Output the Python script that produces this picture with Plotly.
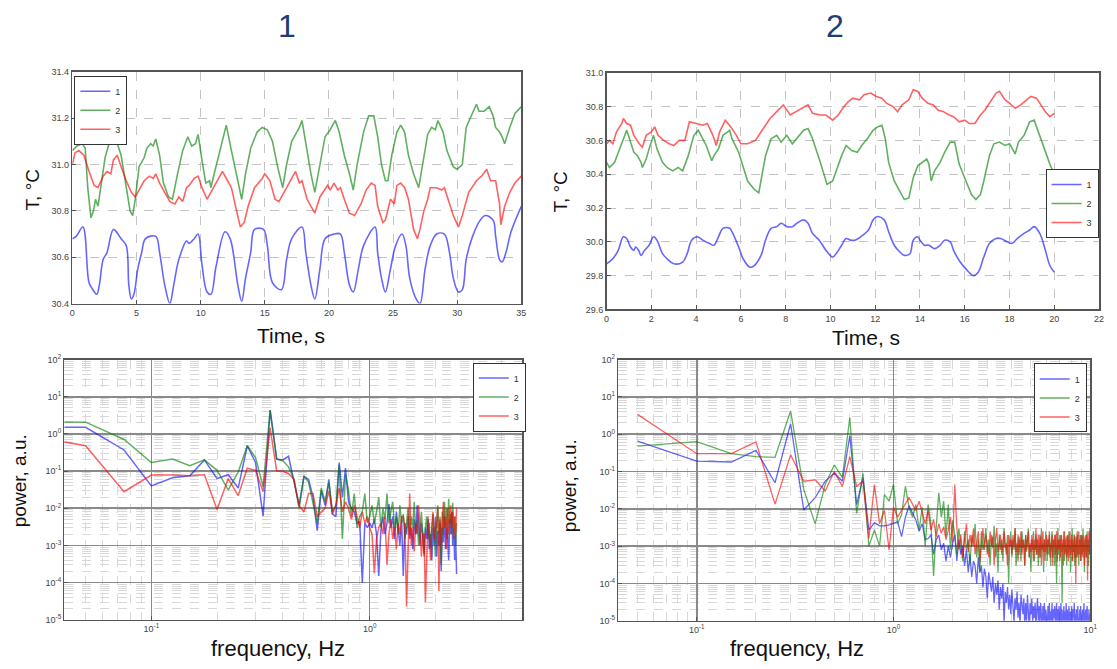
import math
import plotly.graph_objects as go

W, H = 1117, 669

# ---------------- Top-left: temperature, experiment 1 ----------------
tl_t1 = [0, 0.3, 0.82, 1.3, 1.6, 1.9, 2.1, 2.4, 2.7, 3.2,
         3.8, 4.2, 4.4, 4.6, 4.8, 5.1, 5.4, 5.7, 6.5, 6.8,
         7.2, 7.6, 7.9, 8.3, 8.9, 9.1, 9.5, 9.8, 10.1, 10.5,
         10.8, 11.2, 11.9, 12.3, 12.9, 13.2, 13.5, 13.9, 14.2, 14.9,
         15.2, 15.6, 16.3, 16.7, 17.1, 17.9, 18.2, 18.6, 18.9, 19.3,
         19.7, 20.4, 20.9, 21.2, 21.6, 21.9, 22.3, 22.7, 23.6, 23.8,
         24.1, 24.4, 24.8, 25.2, 25.7, 26.0, 26.3, 26.8, 27.1, 27.5,
         27.9, 28.4, 29.0, 29.4, 29.7, 30.1, 30.4, 30.7, 31.2, 31.8,
         32.2, 32.8, 33.0, 33.3, 33.5, 33.8, 34.2, 35]
tl_T1 = [30.68, 30.69, 30.73, 30.49, 30.46, 30.44, 30.48, 30.59, 30.62, 30.72,
         30.68, 30.65, 30.48, 30.42, 30.44, 30.55, 30.62, 30.68, 30.69, 30.62,
         30.48, 30.40, 30.48, 30.59, 30.67, 30.66, 30.68, 30.70, 30.57, 30.45,
         30.44, 30.56, 30.71, 30.68, 30.48, 30.41, 30.51, 30.62, 30.72, 30.72,
         30.65, 30.49, 30.46, 30.59, 30.68, 30.73, 30.62, 30.48, 30.42, 30.55,
         30.68, 30.70, 30.70, 30.62, 30.48, 30.45, 30.55, 30.65, 30.73, 30.62,
         30.51, 30.45, 30.55, 30.65, 30.70, 30.65, 30.51, 30.42, 30.40, 30.55,
         30.65, 30.70, 30.70, 30.62, 30.51, 30.45, 30.46, 30.59, 30.69, 30.76,
         30.78, 30.76, 30.69, 30.59, 30.58, 30.62, 30.71, 30.82]

tl_t2 = [0, 0.36, 0.77, 1.0, 1.2, 1.45, 1.65, 1.8, 2.0, 2.3,
         2.55, 2.8, 3.1, 3.3, 3.5, 3.8, 4.1, 4.5, 4.7, 4.9,
         5.2, 5.6, 5.8, 6.1, 6.3, 6.5, 6.8, 7.1, 7.5, 7.8,
         8.2, 8.6, 9.0, 9.3, 9.6, 9.8, 10.1, 10.4, 10.7, 10.8,
         11.1, 11.5, 12.0, 12.4, 13.0, 13.2, 13.5, 13.9, 14.4, 14.8,
         15.2, 15.6, 16.0, 16.4, 16.7, 17.1, 17.4, 17.7, 17.9, 18.2,
         18.6, 18.9, 19.3, 19.7, 20.1, 20.5, 20.8, 21.2, 21.6, 21.9,
         22.2, 22.7, 23.1, 23.5, 23.8, 24.1, 24.4, 24.6, 24.9, 25.3,
         25.6, 25.9, 26.2, 26.6, 27.0, 27.3, 27.7, 28.0, 28.3, 28.5,
         28.9, 29.2, 29.4, 29.7, 30.0, 30.4, 30.7, 31.1, 31.5, 31.7,
         32.1, 32.5, 32.8, 33.0, 33.3, 33.5, 33.7, 34.1, 34.5, 35]
tl_T2 = [31.06, 31.08, 31.09, 31.07, 30.90, 30.77, 30.80, 30.85, 30.82, 30.93,
         31.03, 31.08, 31.11, 31.09, 31.09, 31.04, 30.93, 30.80, 30.78, 30.85,
         30.99, 31.03, 31.07, 31.09, 31.08, 31.11, 31.04, 30.92, 30.86, 30.85,
         30.96, 31.06, 31.12, 31.08, 31.09, 31.13, 31.02, 30.92, 30.93, 30.90,
         30.97, 31.06, 31.17, 31.06, 30.90, 30.85, 30.96, 31.07, 31.14, 31.16,
         31.15, 31.10, 30.99, 30.90, 31.00, 31.10, 31.13, 31.16, 31.19, 31.09,
         30.96, 30.88, 31.00, 31.12, 31.15, 31.19, 31.14, 31.04, 30.96, 30.89,
         31.00, 31.14, 31.21, 31.21, 31.12, 31.00, 30.93, 30.93, 31.04, 31.14,
         31.17, 31.14, 31.04, 30.96, 30.90, 31.00, 31.13, 31.16, 31.15, 31.19,
         31.14, 31.06, 31.03, 30.99, 30.98, 31.00, 31.16, 31.21, 31.26, 31.23,
         31.23, 31.25, 31.21, 31.16, 31.14, 31.12, 31.09, 31.16, 31.22, 31.25]

tl_t3 = [0, 0.2, 0.5, 0.9, 1.3, 1.7, 2.0, 2.4, 2.7, 3.0,
         3.2, 3.5, 3.8, 4.2, 4.6, 4.9, 5.3, 5.6, 6.0, 6.3,
         6.5, 6.8, 7.2, 7.6, 8.0, 8.3, 8.6, 8.9, 9.1, 9.5,
         9.8, 10.1, 10.5, 10.9, 11.3, 11.7, 12.1, 12.4, 12.8, 13.1,
         13.4, 13.7, 14.2, 14.8, 15.0, 15.4, 15.8, 16.1, 16.5, 16.9,
         17.4, 17.7, 17.9, 18.3, 18.7, 18.9, 19.3, 19.9, 20.1, 20.4,
         20.7, 20.9, 21.2, 21.6, 22.0, 22.5, 22.9, 23.3, 23.6, 23.8,
         24.2, 24.4, 24.8, 25.1, 25.3, 25.6, 25.9, 26.2, 26.6, 26.9,
         27.1, 27.4, 27.7, 27.9, 28.4, 28.8, 29.0, 29.4, 29.7, 30.1,
         30.4, 30.9, 31.5, 31.9, 32.3, 32.6, 33.0, 33.3, 33.4, 33.7,
         34.1, 34.5, 35]
tl_T3 = [31.00, 31.05, 31.06, 31.04, 30.97, 30.91, 30.90, 30.95, 30.97, 30.96,
         31.02, 31.04, 30.99, 30.93, 30.88, 30.86, 30.90, 30.93, 30.95, 30.94,
         30.96, 30.92, 30.88, 30.84, 30.83, 30.86, 30.84, 30.90, 30.91, 30.94,
         30.95, 30.90, 30.85, 30.89, 30.93, 30.97, 30.93, 30.90, 30.80, 30.73,
         30.75, 30.82, 30.90, 30.94, 30.96, 30.93, 30.85, 30.84, 30.88, 30.92,
         30.97, 30.92, 30.93, 30.85, 30.81, 30.79, 30.86, 30.91, 30.89, 30.92,
         30.89, 30.90, 30.85, 30.79, 30.78, 30.83, 30.89, 30.92, 30.91, 30.82,
         30.75, 30.76, 30.85, 30.83, 30.91, 30.92, 30.90, 30.85, 30.72, 30.68,
         30.72, 30.80, 30.85, 30.90, 30.90, 30.89, 30.90, 30.83, 30.78, 30.73,
         30.78, 30.88, 30.93, 30.95, 30.98, 30.93, 30.93, 30.83, 30.74, 30.82,
         30.88, 30.92, 30.95]

# ---------------- Top-right: temperature, experiment 2 ----------------
tr_t1 = [0, 0.28, 0.52, 0.75, 0.9, 1.07, 1.22, 1.3, 1.43, 1.54,
         1.7, 1.9, 2.1, 2.25, 2.5, 2.7, 3.0, 3.4, 3.6, 3.8,
         4.05, 4.3, 4.6, 4.8, 5.0, 5.2, 5.5, 5.6, 5.9, 6.1,
         6.4, 6.6, 6.9, 7.1, 7.35, 7.6, 7.8, 8.05, 8.3, 8.5,
         8.8, 9.0, 9.2, 9.5, 9.8, 10.1, 10.25, 10.5, 10.7, 10.9,
         11.1, 11.35, 11.7, 11.9, 12.1, 12.4, 12.6, 12.85, 13.1, 13.3,
         13.55, 13.7, 13.9, 14.0, 14.2, 14.4, 14.65, 14.9, 15.1, 15.35,
         15.5, 15.75, 16.05, 16.4, 16.6, 16.85, 17.1, 17.4, 17.6, 17.9,
         18.1, 18.35, 18.65, 18.9, 19.1, 19.35, 19.6, 19.8, 20.0]
tr_T1 = [29.87, 29.90, 29.95, 30.03, 30.02, 29.97, 29.95, 29.97, 29.95, 29.92,
         29.95, 29.98, 30.03, 30.01, 29.93, 29.90, 29.87, 29.88, 29.93, 30.01,
         30.03, 30.01, 29.99, 29.98, 30.03, 30.08, 30.08, 30.06, 29.97, 29.90,
         29.85, 29.86, 29.92, 30.01, 30.08, 30.09, 30.11, 30.09, 30.09, 30.11,
         30.13, 30.11, 30.05, 30.01, 29.95, 29.91, 29.93, 29.98, 30.02, 30.01,
         30.01, 30.03, 30.07, 30.13, 30.15, 30.13, 30.06, 29.98, 29.94, 29.92,
         29.93, 30.01, 30.03, 30.01, 29.98, 29.98, 29.96, 29.98, 30.01, 30.00,
         29.95, 29.89, 29.84, 29.80, 29.82, 29.91, 29.99, 30.02, 30.02, 30.00,
         29.99, 30.02, 30.05, 30.07, 30.09, 30.05, 29.95, 29.86, 29.82]

tr_t2 = [0, 0.13, 0.36, 0.6, 0.75, 0.9, 1.07, 1.22, 1.38, 1.54,
         1.6, 1.77, 1.9, 2.1, 2.25, 2.5, 2.7, 2.95, 3.2, 3.4,
         3.65, 3.9, 4.1, 4.3, 4.45, 4.7, 4.8, 5.0, 5.2, 5.5,
         5.6, 5.9, 6.1, 6.3, 6.6, 6.8, 6.95, 7.1, 7.35, 7.6,
         7.8, 8.05, 8.3, 8.5, 8.8, 9.0, 9.2, 9.5, 9.7, 9.85,
         10.1, 10.3, 10.5, 10.7, 10.95, 11.2, 11.4, 11.7, 11.9, 12.1,
         12.3, 12.45, 12.6, 12.85, 13.1, 13.3, 13.5, 13.7, 13.9, 14.1,
         14.3, 14.4, 14.5, 14.65, 14.9, 15.1, 15.35, 15.55, 15.75, 16.05,
         16.3, 16.5, 16.7, 16.85, 17.1, 17.3, 17.55, 17.8, 18.0, 18.25,
         18.4, 18.65, 18.9, 19.1, 19.35, 19.6, 19.8, 20.0]
tr_T2 = [30.47, 30.44, 30.47, 30.55, 30.61, 30.66, 30.59, 30.53, 30.51, 30.47,
         30.44, 30.49, 30.55, 30.63, 30.55, 30.47, 30.44, 30.42, 30.44, 30.42,
         30.51, 30.63, 30.66, 30.61, 30.57, 30.48, 30.51, 30.55, 30.63, 30.66,
         30.61, 30.53, 30.44, 30.36, 30.31, 30.29, 30.40, 30.51, 30.61, 30.63,
         30.59, 30.63, 30.58, 30.61, 30.66, 30.67, 30.61, 30.49, 30.40, 30.34,
         30.36, 30.44, 30.51, 30.57, 30.54, 30.53, 30.57, 30.62, 30.66, 30.68,
         30.69, 30.61, 30.47, 30.36, 30.30, 30.25, 30.26, 30.38, 30.45, 30.47,
         30.49, 30.46, 30.36, 30.42, 30.47, 30.53, 30.59, 30.59, 30.46, 30.36,
         30.28, 30.25, 30.28, 30.36, 30.51, 30.58, 30.59, 30.57, 30.58, 30.52,
         30.59, 30.63, 30.71, 30.72, 30.63, 30.53, 30.46, 30.40]

tr_t3 = [0, 0.13, 0.28, 0.44, 0.68, 0.75, 0.9, 1.07, 1.22, 1.46,
         1.6, 1.77, 2.0, 2.15, 2.3, 2.55, 2.8, 3.0, 3.25, 3.5,
         3.7, 4.05, 4.3, 4.5, 4.75, 4.9, 5.05, 5.3, 5.55, 5.8,
         6.0, 6.3, 6.65, 6.95, 7.3, 7.6, 7.9, 8.2, 8.45, 8.7,
         9.0, 9.2, 9.55, 9.8, 10.1, 10.35, 10.55, 10.8, 11.0, 11.3,
         11.5, 11.8, 12.05, 12.3, 12.5, 12.8, 13.0, 13.2, 13.5, 13.7,
         13.9, 14.1, 14.35, 14.6, 14.8, 15.05, 15.3, 15.5, 15.75, 16.0,
         16.2, 16.45, 16.7, 16.9, 17.2, 17.4, 17.55, 17.8, 18.0, 18.25,
         18.5, 18.7, 18.95, 19.2, 19.35, 19.6, 19.8, 20.0]
tr_T3 = [30.58, 30.60, 30.58, 30.65, 30.70, 30.73, 30.70, 30.69, 30.63, 30.58,
         30.56, 30.63, 30.65, 30.68, 30.63, 30.60, 30.58, 30.57, 30.60, 30.60,
         30.71, 30.70, 30.69, 30.70, 30.63, 30.57, 30.65, 30.72, 30.68, 30.63,
         30.58, 30.58, 30.60, 30.66, 30.73, 30.77, 30.81, 30.75, 30.77, 30.79,
         30.81, 30.76, 30.75, 30.75, 30.72, 30.75, 30.79, 30.83, 30.85, 30.84,
         30.87, 30.88, 30.86, 30.85, 30.82, 30.80, 30.77, 30.81, 30.84, 30.90,
         30.89, 30.85, 30.82, 30.81, 30.78, 30.77, 30.75, 30.74, 30.71, 30.72,
         30.70, 30.70, 30.75, 30.78, 30.84, 30.88, 30.89, 30.84, 30.82, 30.79,
         30.81, 30.83, 30.86, 30.85, 30.82, 30.77, 30.74, 30.76]

# ---------------- Bottom-left: spectra, experiment 1 (df = 0.025 Hz) ----------------
BL_DF, BL_N = 0.025, 100
bl_freq = [BL_DF * k for k in range(1, BL_N + 1)]
bl_P1 = [1.5, 1.5, 0.37, 0.04, 0.066, 0.075, 0.2, 0.063, 0.08, 0.035,
         0.48, 0.17, 0.0062, 4.4, 0.21, 0.2, 0.25, 0.05, 0.012, 0.07,
         0.06, 0.02, 0.0025, 0.03, 0.012, 0.06, 0.007, 0.006, 0.17, 0.02,
         0.12, 0.015, 0.01, 0.008, 0.004, 0.0045, 1e-4, 0.004, 0.003, 0.004,
         3e-3, 5e-3, 2e-3, 1.5e-4, 2.5e-3, 6e-3, 2e-3, 4e-3, 1.3e-2, 3e-3,
         6e-3, 1.5e-3, 8e-3, 3e-3, 1e-3, 5e-3, 1.5e-4, 4e-3, 2e-3, 6e-3,
         1.5e-3, 3e-3, 8e-4, 5e-3, 2e-3, 1.2e-2, 3e-3, 1e-3, 4e-3, 2e-3,
         6e-4, 3e-3, 1.5e-3, 5e-3, 8e-4, 2e-3, 4e-4, 3e-3, 1e-3, 6e-3,
         5e-4, 2.5e-3, 1e-3, 4e-3, 2e-4, 3e-3, 1.2e-3, 6e-3, 8e-4, 3e-3,
         1.5e-3, 4e-4, 5e-3, 2e-3, 8e-3, 1e-3, 3e-3, 4e-4, 2e-3, 1.7e-4]
bl_P2 = [2.1, 2.07, 0.71, 0.17, 0.21, 0.14, 0.2, 0.105, 0.031, 0.095,
         0.48, 0.23, 0.038, 4.4, 0.21, 0.19, 0.13, 0.06, 0.01, 0.075,
         0.05, 0.015, 0.004, 0.035, 0.015, 0.05, 0.008, 0.012, 0.15, 0.0015,
         0.08, 0.03, 0.006, 0.025, 0.003, 0.006, 0.008, 0.025, 0.004, 0.006,
         0.012, 0.004, 0.008, 0.02, 3e-3, 1e-2, 5e-3, 2.5e-2, 4e-3, 8e-3,
         1.5e-2, 3e-3, 6e-3, 2e-3, 1.2e-2, 4e-3, 7e-3, 1.5e-3, 5e-3, 1e-2,
         2e-3, 6e-3, 3e-3, 1.5e-2, 2e-3, 5e-3, 1e-3, 4e-3, 8e-3, 2e-3,
         5e-4, 3e-3, 6e-3, 1.5e-3, 4e-3, 9e-4, 3e-3, 7e-3, 2e-3, 5e-4,
         4e-3, 1.2e-2, 2e-3, 6e-3, 3e-4, 8e-3, 2e-3, 1.5e-2, 3e-3, 1e-2,
         1.5e-3, 1.8e-2, 4e-3, 7e-3, 2e-3, 1.4e-2, 3e-3, 6e-3, 1e-3, 4e-3]
bl_P3 = [1.0, 0.48, 0.028, 0.078, 0.078, 0.075, 0.08, 0.0093, 0.063, 0.022,
         0.12, 0.105, 0.028, 1.45, 0.1, 0.1, 0.085, 0.06, 0.012, 0.008,
         0.025, 0.025, 0.006, 0.008, 0.01, 0.03, 0.007, 0.012, 0.035, 0.008,
         0.015, 0.01, 0.005, 0.012, 0.006, 0.003, 0.008, 0.004, 0.006, 0.003,
         2e-3, 1.8e-4, 1.5e-3, 3e-3, 4e-3, 2e-3, 6e-3, 3e-4, 2e-3, 5e-3,
         1.5e-3, 3e-3, 8e-4, 4e-3, 2e-3, 6e-3, 6e-3, 3e-3, 2.3e-5, 2e-3,
         2.5e-2, 1e-3, 3e-3, 7e-4, 4e-3, 2e-3, 1.2e-2, 3e-3, 5e-4, 2e-3,
         2e-3, 3e-5, 1e-3, 6e-3, 2e-3, 4e-4, 3e-3, 8e-3, 1.5e-3, 3e-3,
         3e-3, 1e-2, 6e-5, 5e-3, 1e-3, 4e-3, 1.5e-2, 3e-3, 6e-3, 8e-4,
         1e-2, 2e-3, 5e-3, 1.2e-2, 3e-3, 8e-3, 1.5e-3, 6e-3, 2e-3, 1e-2]

# ---------------- Bottom-right: spectra, experiment 2 (df = 0.05 Hz) ----------------
BR_DF, BR_N = 0.05, 200
br_freq = [BR_DF * k for k in range(1, BR_N + 1)]
br_P1 = [0.65, 0.19, 0.18, 0.37, 0.05, 1.9, 0.0093, 0.02, 0.055, 0.09,
         0.055, 0.9, 0.013, 0.068, 0.0027, 0.0042, 0.0035, 0.0035, 0.0037, 0.004,
         0.0045, 0.0018, 0.006, 0.012, 0.008, 0.005, 0.0025, 0.004, 0.0015, 0.0016,
         0.002, 0.0006, 0.0015, 0.002, 0.0008, 0.0012, 4e-4, 1e-3, 5e-4, 1.2e-3,
         2e-3, 4e-4, 1.5e-3, 6e-4, 1e-3, 3e-4, 8e-4, 2e-4, 6e-4, 1.5e-4,
         4e-4, 3e-4, 1e-4, 5e-4, 2e-4, 3e-4, 8e-5, 2.5e-4, 1.5e-4, 4e-5,
         2e-4, 1e-4, 6e-5, 1.5e-4, 3e-5, 1e-4, 5e-5, 1.2e-4, 2e-5, 8e-5,
         4e-5, 1e-4, 9e-6, 6e-5, 3e-5, 8e-5, 2e-5, 5e-5, 1.5e-5, 7e-5,
         3e-5, 9e-6, 4e-5, 2e-5, 6e-5, 1.2e-5, 3e-5, 8e-6, 5e-5, 2e-5,
         1.5e-5, 4e-5, 7e-6, 3e-5, 1e-5, 5e-5, 2e-5, 6e-6, 3e-5, 1.5e-5,
         4e-5, 8e-6, 2.5e-5, 1.2e-5, 3e-5, 6e-6, 2e-5, 4e-5, 1e-5, 2.5e-5,
         7e-6, 3e-5, 1.5e-5, 5e-6, 2.5e-5, 1e-5, 3e-5, 8e-6, 2e-5, 1.2e-5,
         4e-6, 2.5e-5, 1e-5, 3e-5, 6e-6, 1.8e-5, 1e-5, 3e-5, 5e-6, 2e-5,
         1.2e-5, 2.5e-5, 7e-6, 1.5e-5, 3e-5, 5e-6, 2e-5, 1e-5, 2.5e-5, 6e-6,
         1.5e-5, 3e-5, 8e-6, 2e-5, 4e-6, 1.5e-5, 2.5e-5, 7e-6, 1.8e-5, 1e-5,
         3e-5, 5e-6, 2e-5, 1.2e-5, 6e-6, 2.5e-5, 1e-5, 4e-6, 1.8e-5, 8e-6,
         2.5e-5, 1e-5, 5e-6, 2e-5, 1.2e-5, 3e-5, 6e-6, 1.5e-5, 9e-6, 2e-5,
         5e-6, 1.5e-5, 2.5e-5, 8e-6, 1.2e-5, 4e-6, 2e-5, 1e-5, 2.5e-5, 6e-6,
         1.5e-5, 9e-6, 2e-5, 5e-6, 1.2e-5, 3e-5, 7e-6, 1.5e-5, 1e-5, 2e-5,
         6e-6, 1.5e-5, 2.5e-5, 8e-6, 1.2e-5, 5e-6, 2e-5, 1e-5, 1.5e-5, 8e-6]
br_P2 = [0.48, 0.63, 0.3, 0.25, 0.24, 4.2, 0.033, 0.004, 0.045, 0.15,
         0.07, 2.8, 0.0076, 0.09, 0.001, 0.0027, 0.001, 0.024, 0.016, 0.045,
         0.004, 0.007, 0.04, 0.011, 0.006, 0.013, 0.0027, 0.011, 0.001, 0.013,
         0.004, 1.6e-4, 0.0033, 0.027, 0.006, 0.016, 0.0018, 0.013, 8e-4, 0.0049,
         2e-3, 6e-4, 3e-3, 1e-3, 4e-4, 2.5e-3, 8e-4, 1.5e-3, 3e-4, 2e-3,
         1e-3, 4e-3, 5e-4, 1.5e-3, 2e-4, 2.5e-3, 8e-4, 1.2e-3, 3e-3, 6e-4,
         1.5e-3, 3e-4, 2e-3, 9e-4, 3.5e-3, 5e-4, 1.2e-3, 2e-4, 2e-3, 8e-4,
         1.5e-3, 4e-4, 3e-3, 1e-3, 6e-4, 2e-3, 1e-4, 1.2e-3, 2.5e-3, 5e-4,
         1.5e-3, 8e-4, 3e-3, 3e-4, 1e-3, 2e-3, 6e-4, 1.5e-3, 4e-4, 2.5e-3,
         9e-4, 1.5e-3, 3e-4, 2e-3, 7e-4, 1.2e-3, 3e-3, 5e-4, 1e-3, 2e-4,
         1.5e-3, 8e-4, 2.5e-3, 4e-4, 1e-3, 2e-3, 6e-4, 1.5e-3, 3e-4, 1.2e-3,
         2e-3, 5e-4, 3e-3, 8e-4, 1.2e-3, 2e-4, 1.5e-3, 7e-4, 2.5e-3, 1e-3,
         4e-4, 1.5e-3, 6e-4, 2e-3, 9e-4, 3e-4, 1.2e-3, 2.5e-3, 5e-4, 1e-3,
         1.5e-3, 3e-4, 2e-3, 7e-4, 1e-4, 1.2e-3, 3e-3, 6e-4, 1.5e-3, 4e-4,
         1e-3, 2e-3, 5e-4, 3e-5, 1.2e-3, 8e-4, 2.5e-3, 4e-4, 1.5e-3, 7e-4,
         1e-3, 3e-4, 2e-3, 6e-4, 1.2e-3, 2.5e-3, 5e-4, 1e-3, 2e-4, 1.5e-3,
         8e-4, 3e-3, 4e-4, 1.2e-3, 7e-4, 2e-3, 3e-4, 1e-3, 1.8e-3, 5e-4,
         1.2e-3, 2.5e-3, 6e-4, 1e-3, 3e-4, 1.5e-3, 8e-4, 2e-3, 4e-4, 1.2e-3,
         2e-3, 6e-4, 1e-3, 3e-3, 5e-4, 1.2e-3, 2e-4, 1.5e-3, 8e-4, 2e-3,
         5e-4, 1.2e-3, 2.5e-3, 7e-4, 1e-3, 3e-4, 1.5e-3, 6e-4, 2e-3, 3e-3]
br_P3 = [3.4, 0.3, 0.3, 0.62, 0.0134, 0.28, 0.055, 0.06, 0.03, 0.1,
         0.04, 0.25, 0.04, 0.055, 0.0016, 0.045, 0.004, 0.009, 8e-4, 0.011,
         0.006, 0.009, 0.0134, 0.02, 0.0134, 0.009, 0.016, 0.0075, 0.004, 0.009,
         0.0027, 0.0052, 0.0018, 0.004, 0.0022, 0.0033, 0.0015, 0.0027, 0.006, 0.0013,
         0.045, 3e-3, 8e-4, 2e-3, 5e-4, 1.5e-3, 4e-3, 7e-4, 2e-3, 1e-3,
         3e-3, 6e-4, 1.5e-3, 2.5e-3, 4e-4, 1.2e-3, 3e-3, 8e-4, 2e-3, 1e-3,
         5e-4, 2.5e-3, 1e-3, 1.8e-3, 3e-4, 1.5e-3, 3e-3, 7e-4, 1.2e-3, 2e-3,
         6e-4, 1.5e-3, 2.5e-3, 9e-4, 1.2e-3, 3e-4, 2e-3, 1e-3, 1.5e-3, 6e-4,
         2e-3, 1e-3, 3e-3, 7e-4, 1.2e-3, 4e-4, 1.8e-3, 9e-4, 2.5e-3, 6e-4,
         1.5e-3, 1e-3, 3e-4, 2e-3, 8e-4, 1.5e-3, 2.5e-3, 5e-4, 1.2e-3, 7e-4,
         2e-3, 1e-3, 4e-4, 1.5e-3, 8e-4, 3e-3, 6e-4, 1.2e-3, 2e-3, 5e-4,
         1e-3, 1.8e-3, 3e-4, 1.2e-3, 2.5e-3, 7e-4, 1.5e-3, 4e-4, 1e-3, 2e-3,
         6e-4, 1.5e-3, 1e-3, 2.5e-3, 5e-4, 1.2e-3, 8e-4, 2e-3, 3e-4, 1.5e-3,
         1e-3, 2e-3, 6e-4, 1.2e-3, 2.5e-3, 4e-4, 1.5e-3, 8e-4, 1e-3, 2e-3,
         5e-4, 1.2e-3, 2e-3, 7e-4, 1.5e-3, 3e-4, 1e-3, 2.5e-3, 6e-4, 1.2e-3,
         1.8e-3, 5e-4, 1e-3, 2e-3, 4e-4, 1.5e-3, 8e-4, 2.5e-3, 6e-4, 1.2e-3,
         2e-3, 4e-4, 1e-3, 1.5e-3, 7e-4, 2e-3, 5e-4, 1.2e-3, 1e-4, 1.5e-3,
         8e-4, 2e-3, 5e-4, 1.2e-3, 2.5e-3, 6e-4, 1e-3, 1.5e-3, 4e-4, 2e-3,
         1e-3, 5e-4, 1.5e-3, 2e-3, 7e-4, 1.2e-3, 3e-4, 1.8e-3, 9e-4, 1.5e-3,
         5e-4, 2e-3, 1e-3, 1.2e-4, 1.5e-3, 7e-4, 2.5e-3, 1e-3, 6e-4, 3e-3]

series_names = ["1", "2", "3"]
line_colors = ["rgba(0,0,255,0.6)", "rgba(0,128,0,0.62)", "rgba(255,0,0,0.62)"]
title_labels = ["1", "2"]

# ---------------- figure ----------------
fig = go.Figure()

def add_panel(xs, ys, xa, ya, legend, width, shapes=None):
    for i in range(3):
        fig.add_trace(go.Scatter(
            x=xs[i], y=ys[i], mode="lines", name=series_names[i],
            xaxis=xa, yaxis=ya, legend=legend,
            line=dict(color=line_colors[i], width=width,
                      shape=(shapes[i] if shapes else "linear")),
            hoverinfo="skip"))

add_panel([tl_t1, tl_t2, tl_t3], [tl_T1, tl_T2, tl_T3], "x", "y", "legend", 1.6,
          ["spline", "linear", "linear"])
add_panel([tr_t1, tr_t2, tr_t3], [tr_T1, tr_T2, tr_T3], "x2", "y2", "legend2", 1.6,
          ["spline", "linear", "linear"])
add_panel([bl_freq] * 3, [bl_P1, bl_P2, bl_P3], "x3", "y3", "legend3", 1.5)
add_panel([br_freq] * 3, [br_P1, br_P2, br_P3], "x4", "y4", "legend4", 1.3)

def dx(p):
    return p / W

def dy(p):
    return 1 - p / H

tickfont = dict(size=9, color="#444", family="Liberation Sans, Arial, sans-serif")
frame = dict(showline=True, mirror=True, linecolor="#555", linewidth=1.5,
             zeroline=False, ticks="inside", ticklen=4, tickcolor="#555",
             tickfont=tickfont)
lin_grid = dict(showgrid=True, gridcolor="#c4c4c4", griddash="dash", gridwidth=1)
log_grid = dict(showgrid=True, gridcolor="#8a8a8a", gridwidth=1.6,
                minor=dict(dtick="D1", showgrid=True, gridcolor="#d8d8d8",
                           griddash="dash", gridwidth=1, ticks=""))

def sup(e):
    return "10<sup>%d</sup>" % e

ydec = [-5, -4, -3, -2, -1, 0, 1, 2]

fig.update_layout(
    width=W, height=H, margin=dict(l=0, r=0, t=0, b=0),
    paper_bgcolor="white", plot_bgcolor="white",
    font=dict(family="Liberation Sans, Arial, sans-serif", color="#111"),
    xaxis=dict(domain=[dx(70), dx(523)], anchor="y", range=[0, 35],
               tickmode="linear", tick0=0, dtick=5, **frame, **lin_grid),
    yaxis=dict(domain=[dy(302), dy(66)], anchor="x", range=[30.4, 31.4],
               tickmode="linear", tick0=30.4, dtick=0.2, tickformat=".1f",
               **frame, **lin_grid),
    xaxis2=dict(domain=[dx(609), dx(1106)], anchor="y2", range=[0, 22],
                tickmode="linear", tick0=0, dtick=2, **frame, **lin_grid),
    yaxis2=dict(domain=[dy(308), dy(67)], anchor="x2", range=[29.6, 31.0],
                tickmode="linear", tick0=29.6, dtick=0.2, tickformat=".1f",
                **frame, **lin_grid),
    xaxis3=dict(domain=[dx(62), dx(524)], anchor="y3", type="log",
                range=[math.log10(0.04), math.log10(5)],
                tickmode="array", tickvals=[0.1, 1], ticktext=[sup(-1), sup(0)],
                **frame, **log_grid),
    yaxis3=dict(domain=[dy(624), dy(359)], anchor="x3", type="log", range=[-5, 2],
                tickmode="array", tickvals=[10.0 ** e for e in ydec],
                ticktext=[sup(e) for e in ydec], **frame, **log_grid),
    xaxis4=dict(domain=[dx(621), dx(1097)], anchor="y4", type="log",
                range=[math.log10(0.04), 1],
                tickmode="array", tickvals=[0.1, 1, 10],
                ticktext=[sup(-1), sup(0), sup(1)], **frame, **log_grid),
    yaxis4=dict(domain=[dy(625), dy(359)], anchor="x4", type="log", range=[-5, 2],
                tickmode="array", tickvals=[10.0 ** e for e in ydec],
                ticktext=[sup(e) for e in ydec], **frame, **log_grid),
)

leg_common = dict(bgcolor="white", bordercolor="#333", borderwidth=1,
                  font=dict(size=9, color="#333"), itemwidth=30,
                  tracegroupgap=0, xanchor="left", yanchor="top")
fig.update_layout(
    legend=dict(x=dx(72), y=dy(70), **leg_common),
    legend2=dict(x=dx(1052), y=dy(165), **leg_common),
    legend3=dict(x=dx(474), y=dy(362), **leg_common),
    legend4=dict(x=dx(1040), y=dy(363), **leg_common),
)

def note(text, x, y, size, angle=0, color="#111"):
    fig.add_annotation(text=text, x=dx(x), y=dy(y), xref="paper", yref="paper",
                       showarrow=False, textangle=angle, xanchor="center",
                       yanchor="middle",
                       font=dict(size=size, color=color,
                                 family="Liberation Sans, Arial, sans-serif"))

note(title_labels[0], 287, 19, 32, color="#1f3c73")
note(title_labels[1], 840, 19, 32, color="#1f3c73")
note("T, °C", 30, 186, 19, -90)
note("T, °C", 563, 188, 19, -90)
note("Time, s", 291, 335, 21)
note("Time, s", 871, 337, 21)
note("power, a.u.", 16, 482, 19, -90)
note("power, a.u.", 571, 487, 19, -90)
note("frequency, Hz", 277, 653, 22)
note("frequency, Hz", 801, 653, 22)

fig.write_html("out.html",
               config={"displayModeBar": False, "staticPlot": True},
               post_script="document.body.style.margin='0';"
                           "document.body.style.overflow='hidden';")
